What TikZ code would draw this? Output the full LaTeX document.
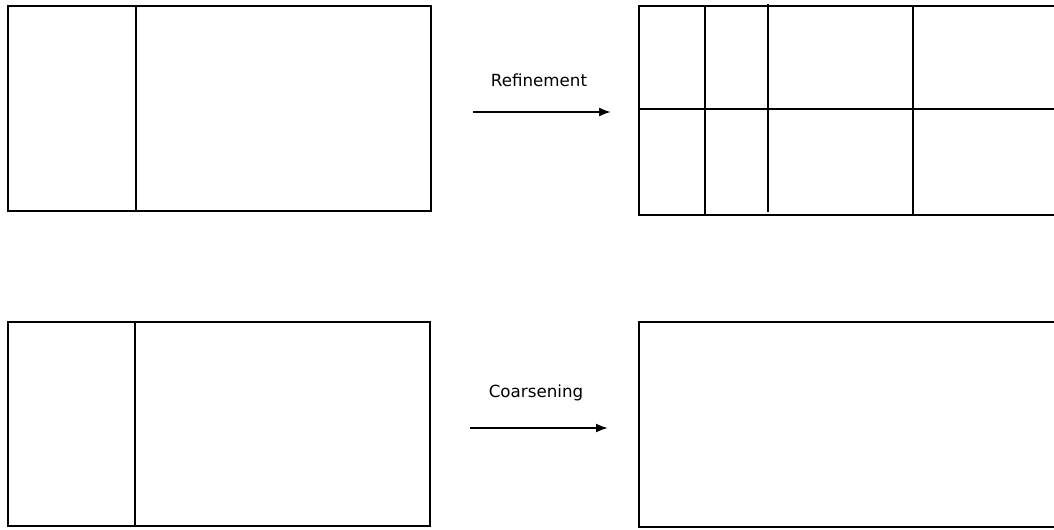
\documentclass[tikz,border=0pt]{standalone}
\usepackage{fontspec}
\setmainfont{DejaVu Sans}
\usepackage{tikz}
\usetikzlibrary{arrows.meta}

\begin{document}
\begin{tikzpicture}[>={Latex[length=2.4mm,width=1.8mm]}, x=0.2mm, y=-0.2mm, line width=1.1pt,
  caption/.style={font=\fontsize{9.5}{11}\selectfont, inner sep=1pt}]
\useasboundingbox (0,0) rectangle (1054,529);

% ===== 上排：原始网格 =====
\draw (8,6) rectangle (431,211);
\draw (136,6) -- (136,211);

% ===== 上排：加密后的网格 =====
\draw (1054,6) -- (639,6) -- (639,215) -- (1054,215);
\draw (639,109) -- (1054,109);
\draw (705,6) -- (705,215);
\draw (768,4) -- (768,212);
\draw (913,6) -- (913,215);

% ===== 加密箭头 =====
\coordinate (refA) at (473,112);
\coordinate (refB) at (611,112);
\draw[->] (refA) -- (refB);
\node[caption] (refText) at (539,80) {Refinement};

% ===== 下排：原始网格 =====
\draw (8,322) rectangle (430,526);
\draw (135,322) -- (135,526);

% ===== 下排：粗化后的网格 =====
\draw (1054,322) -- (639,322) -- (639,527) -- (1054,527);

% ===== 粗化箭头 =====
\coordinate (coaA) at (470,428);
\coordinate (coaB) at (608,428);
\draw[->] (coaA) -- (coaB);
\node[caption] (coaText) at (536,393) {Coarsening};
\end{tikzpicture}
\end{document}
